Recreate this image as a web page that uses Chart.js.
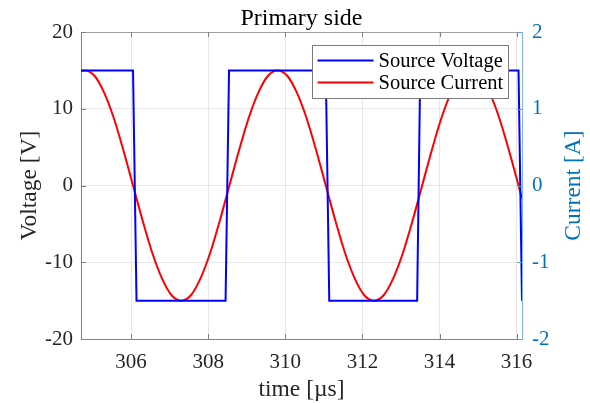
<!DOCTYPE html>
<html>
<head>
<meta charset="utf-8">
<script src="https://cdn.jsdelivr.net/npm/chart.js@4/dist/chart.umd.min.js"></script>
<style>
  html, body { margin: 0; padding: 0; background: #fff; }
  #wrap { width: 590px; height: 403px; }
</style>
</head>
<body>
<div id="wrap"><canvas id="myChart" width="590" height="403"></canvas></div>
<script>
// values
const voltTime   = [304.7, 306.05, 306.14, 308.45, 308.54, 311.05, 311.14, 313.42, 313.5, 316.05, 316.14];
const voltValues = [15, 15, -15, -15, 15, 15, -15, -15, 15, 15, -15];

const currTime = [304.7, 304.8, 305.05, 305.3, 305.55, 305.8, 306.05, 306.3, 306.55, 306.8, 307.05,
                  307.3, 307.55, 307.8, 308.05, 308.3, 308.55, 308.8, 309.05, 309.3, 309.55,
                  309.8, 310.05, 310.3, 310.55, 310.8, 311.05, 311.3, 311.55, 311.8, 312.05,
                  312.3, 312.55, 312.8, 313.05, 313.3, 313.55, 313.8, 314.05, 314.3, 314.55,
                  314.8, 315.05, 315.3, 315.55, 315.8, 316.05, 316.14];
const currValues = [1.49, 1.5, 1.43, 1.21, 0.88, 0.46, 0, -0.46, -0.88, -1.21, -1.43,
                    -1.5, -1.43, -1.21, -0.88, -0.46, 0, 0.46, 0.88, 1.21, 1.43,
                    1.5, 1.43, 1.21, 0.88, 0.46, 0, -0.46, -0.88, -1.21, -1.43,
                    -1.5, -1.43, -1.21, -0.88, -0.46, 0, 0.46, 0.88, 1.21, 1.43,
                    1.5, 1.43, 1.21, 0.88, 0.46, 0, -0.17];

const xTicks  = [306, 308, 310, 312, 314, 316];
const yTicks  = [-20, -10, 0, 10, 20];
const y1Ticks = [-2, -1, 0, 1, 2];

const seriesNames = ['Source Voltage', 'Source Current'];
const seriesColors = ['#0000ff', '#ff0000'];

const serif = "'Liberation Serif', 'Times New Roman', serif";
const rightColor = '#0072bd';
const axisGray = '#808080';

// title, axis titles, box, inward ticks, legend
const decorPlugin = {
    id: 'decor',
    afterDraw(chart) {
        const { ctx, chartArea: a, scales } = chart;
        ctx.save();

        // top border
        ctx.lineWidth = 1;
        ctx.strokeStyle = '#a0a0a0';
        ctx.beginPath();
        ctx.moveTo(a.left, a.top + 0.5);
        ctx.lineTo(a.right, a.top + 0.5);
        ctx.stroke();

        // inward ticks
        ctx.strokeStyle = axisGray;
        xTicks.forEach(v => {
            const px = Math.round(scales.x.getPixelForValue(v)) + 0.5;
            ctx.beginPath();
            ctx.moveTo(px, a.bottom); ctx.lineTo(px, a.bottom - 5);
            ctx.moveTo(px, a.top); ctx.lineTo(px, a.top + 5);
            ctx.stroke();
        });
        yTicks.forEach(v => {
            const py = Math.round(scales.y.getPixelForValue(v)) + 0.5;
            ctx.beginPath();
            ctx.moveTo(a.left, py); ctx.lineTo(a.left + 5, py);
            ctx.stroke();
        });
        ctx.strokeStyle = '#5fa3d6';
        y1Ticks.forEach(v => {
            const py = Math.round(scales.y1.getPixelForValue(v)) + 0.5;
            ctx.beginPath();
            ctx.moveTo(a.right, py); ctx.lineTo(a.right - 5, py);
            ctx.stroke();
        });

        // title
        ctx.fillStyle = '#000';
        ctx.font = '24px ' + serif;
        ctx.textAlign = 'center';
        ctx.textBaseline = 'alphabetic';
        ctx.fillText('Primary side', (a.left + a.right) / 2, 25);

        // x title
        ctx.fillStyle = '#262626';
        ctx.font = '23.5px ' + serif;
        ctx.fillText('time [\u00b5s]', (a.left + a.right) / 2, 396);

        // y titles
        ctx.save();
        ctx.translate(36, (a.top + a.bottom) / 2);
        ctx.rotate(-Math.PI / 2);
        ctx.fillText('Voltage [V]', 0, 0);
        ctx.restore();

        ctx.save();
        ctx.fillStyle = rightColor;
        ctx.translate(580, (a.top + a.bottom) / 2);
        ctx.rotate(-Math.PI / 2);
        ctx.fillText('Current [A]', 0, 0);
        ctx.restore();

        // legend box
        const lx = 312.5, ly = 45.5, lw = 196, lh = 53;
        ctx.fillStyle = '#fff';
        ctx.fillRect(lx, ly, lw, lh);
        ctx.strokeStyle = '#7a7a7a';
        ctx.lineWidth = 1;
        ctx.strokeRect(lx, ly, lw, lh);
        ctx.font = '20.5px ' + serif;
        ctx.textAlign = 'left';
        ctx.textBaseline = 'middle';
        seriesNames.forEach((name, i) => {
            const yy = ly + 15 + i * 22;
            ctx.strokeStyle = seriesColors[i];
            ctx.lineWidth = 2;
            ctx.beginPath();
            ctx.moveTo(lx + 5, yy); ctx.lineTo(lx + 61, yy);
            ctx.stroke();
            ctx.fillStyle = '#000';
            ctx.fillText(name, lx + 66, yy + 1);
        });

        ctx.restore();
    }
};

const ctx = document.getElementById('myChart').getContext('2d');

new Chart(ctx, {
    type: 'line',
    data: {
        datasets: [
            {
                label: seriesNames[0],
                data: voltTime.map((t, i) => ({ x: t, y: voltValues[i] })),
                borderColor: seriesColors[0],
                borderWidth: 2,
                pointRadius: 0,
                tension: 0,
                yAxisID: 'y'
            },
            {
                label: seriesNames[1],
                data: currTime.map((t, i) => ({ x: t, y: currValues[i] })),
                borderColor: seriesColors[1],
                borderWidth: 2,
                pointRadius: 0,
                cubicInterpolationMode: 'monotone',
                yAxisID: 'y1'
            }
        ]
    },
    options: {
        responsive: false,
        animation: false,
        layout: { padding: { top: 32, left: 0, right: 0, bottom: 0 } },
        plugins: {
            legend: { display: false },
            title: { display: false },
            tooltip: { enabled: false }
        },
        scales: {
            x: {
                type: 'linear',
                min: 304.7,
                max: 316.14,
                afterBuildTicks: s => { s.ticks = xTicks.map(v => ({ value: v })); },
                afterFit: s => { s.height = 64; },
                grid: { color: '#e6e6e6', drawTicks: false },
                border: { color: axisGray, width: 1 },
                ticks: {
                    padding: 11,
                    color: '#262626',
                    font: { family: serif, size: 21 }
                }
            },
            y: {
                position: 'left',
                min: -20,
                max: 20,
                afterBuildTicks: s => { s.ticks = yTicks.map(v => ({ value: v })); },
                afterFit: s => { s.width = 81; },
                grid: { color: '#e6e6e6', drawTicks: false },
                border: { color: axisGray, width: 1 },
                ticks: {
                    padding: 8,
                    color: '#262626',
                    font: { family: serif, size: 21 }
                }
            },
            y1: {
                position: 'right',
                min: -2,
                max: 2,
                afterBuildTicks: s => { s.ticks = y1Ticks.map(v => ({ value: v })); },
                afterFit: s => { s.width = 68; },
                grid: { drawOnChartArea: false, drawTicks: false },
                border: { color: '#7fb6e0', width: 1 },
                ticks: {
                    padding: 10,
                    color: rightColor,
                    font: { family: serif, size: 21 }
                }
            }
        }
    },
    plugins: [decorPlugin]
});
</script>
</body>
</html>
